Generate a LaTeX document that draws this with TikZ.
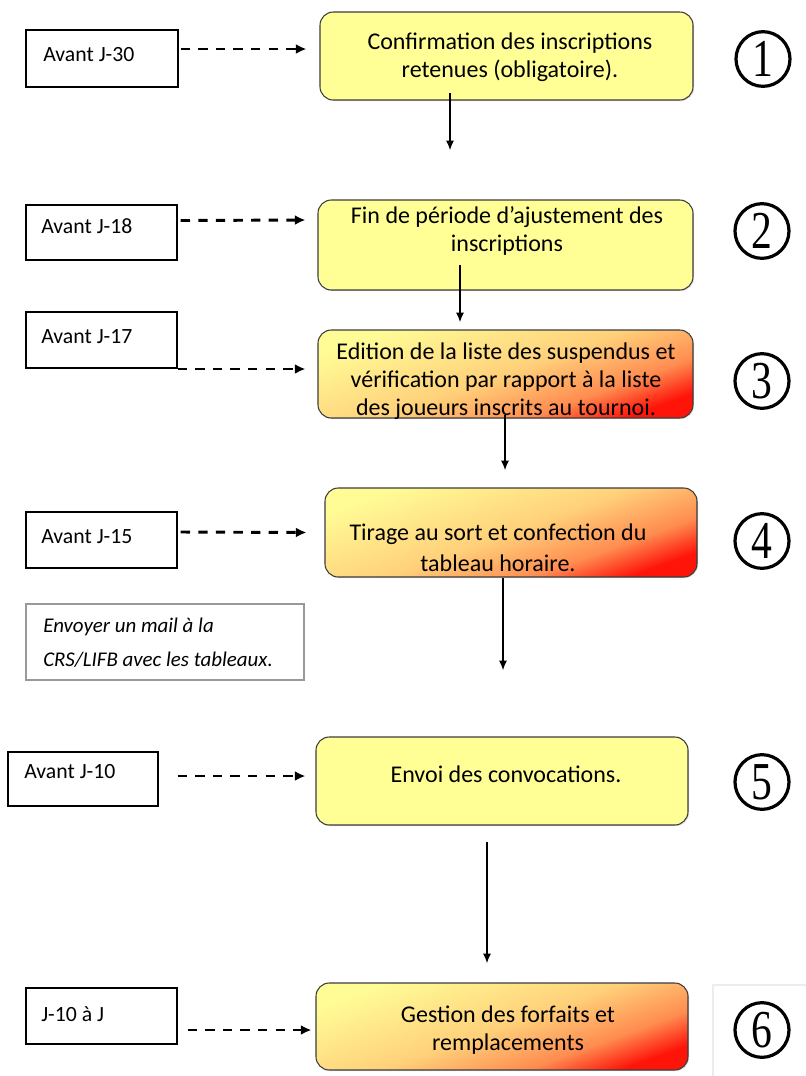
\documentclass[tikz,border=0pt]{standalone}
\usepackage{fontspec}
\setmainfont{Carlito}
\newfontfamily\digfont{Liberation Serif}
\usetikzlibrary{arrows.meta,shapes.geometric,shadows,calc,fit}
\definecolor{boxyellow}{RGB}{255,255,150}
\definecolor{gradY}{RGB}{255,252,150}
\definecolor{gradL}{RGB}{255,208,122}
\definecolor{gradO}{RGB}{255,140,80}
\definecolor{gradR}{RGB}{255,20,10}
\definecolor{boxline}{RGB}{60,60,60}
\pgfdeclareverticalshading{gbshade}{100bp}{color(0bp)=(gradR); color(25bp)=(gradR); color(35bp)=(gradO); color(50bp)=(gradL); color(75bp)=(gradY); color(100bp)=(gradY)}
\tikzset{
  lbox/.style={draw=black, line width=1pt, inner sep=0pt},
  notebox/.style={draw=gray!80, line width=1pt, inner sep=0pt},
  mbox/.style={draw=boxline, line width=0.8pt, rounded corners=10pt, inner sep=0pt,
     drop shadow={opacity=0.25, shadow xshift=0.8pt, shadow yshift=-0.8pt}},
  ybox/.style={mbox, fill=boxyellow},
  gbox/.style={mbox, shading=gbshade, shading angle=20},
  mtext/.style={align=center, font=\fontsize{18}{21}\selectfont, inner sep=0pt},
  ltext/.style={anchor=west, font=\fontsize{16.3}{19}\selectfont, inner sep=0pt},
  ntext/.style={anchor=west, font=\fontsize{15.7}{18}\selectfont\itshape, inner sep=0pt},
  numcirc/.style={ellipse, draw=black, line width=2.4pt, minimum width=40.5pt, minimum height=41pt, inner sep=0pt,
     font=\digfont\fontsize{40}{40}\selectfont},
  dasharrow/.style={line width=2.2pt, dash pattern=on 7pt off 6.2pt, -{Latex[length=8pt,width=7.5pt]}},
  solidarrow/.style={line width=0.8pt, -{Latex[length=7pt,width=6pt]}}
}
\newcommand{\dig}[1]{\scalebox{0.78}[1]{#1}}
\begin{document}
\begin{tikzpicture}[x=0.75pt,y=-0.75pt]
\useasboundingbox (0,0) rectangle (806,1076);
% faint frame around 6
\draw[gray!15, line width=0.8pt] (713,1080) -- (713,985) -- (810,985);

% left boxes
\node[lbox, fit={(26,30) (178,87)}] (L1) {};
\node[lbox, fit={(26,205) (177,260)}] (L2) {};
\node[lbox, fit={(26,312) (177,368)}] (L3) {};
\node[lbox, fit={(26,512) (177,568)}] (L4) {};
\node[lbox, fit={(8,752) (158,806)}] (L5) {};
\node[lbox, fit={(26,988) (177,1044)}] (L6) {};
\node[ltext] (T1) at (43,55) {Avant J-30};
\node[ltext] (T2) at (41,226) {Avant J-18};
\node[ltext] (T3) at (41,337) {Avant J-17};
\node[ltext] (T4) at (41,537) {Avant J-15};
\node[ltext] (T5) at (24,772) {Avant J-10};
\node[ltext] (T6) at (41,1014) {J-10 à J};

% note box
\node[notebox, fit={(26,604) (304,680)}] (N) {};
\node[ntext] (N1) at (43,627) {Envoyer un mail à la};
\node[ntext] (N2) at (43,660) {CRS/LIFB avec les tableaux.};

% main boxes
\node[ybox, fit={(320,12) (693,100)}] (M1) {};
\node[ybox, fit={(318,200) (693,290)}] (M2) {};
\node[gbox, fit={(318,330) (693,418)}] (M3) {};
\node[gbox, fit={(325,488) (697,577)}] (M4) {};
\node[ybox, fit={(316,737) (688,825)}] (M5) {};
\node[gbox, fit={(316,983) (688,1070)}] (M6) {};

\node[mtext] (X1) at (510,57) {Confirmation des inscriptions\\retenues (obligatoire).};
\node[mtext] (X2) at (507,231) {Fin de période d’ajustement des\\inscriptions};
\node[mtext] (X3) at (506,381) {Edition de la liste des suspendus et\\vérification par rapport à la liste\\des joueurs inscrits au tournoi.};
\node[mtext] (X4) at (498,548) {Tirage au sort et confection du\\[2pt]tableau horaire.};
\node[mtext] (X5) at (506,774) {Envoi des convocations.};
\node[mtext] (X6) at (508,1030) {Gestion des forfaits et\\remplacements};

% circled numbers
\node[numcirc] (C1) at (763,59) {\dig{1}};
\node[numcirc] (C2) at (762,231) {\dig{2}};
\node[numcirc] (C3) at (762,381) {\dig{3}};
\node[numcirc] (C4) at (762,541) {\dig{4}};
\node[numcirc] (C5) at (762,782) {\dig{5}};
\node[numcirc] (C6) at (762,1030) {\dig{6}};

% dashed arrows
\coordinate (d1s) at ($(L1.east)+(2,-9.5)$);  \coordinate (d1e) at ($(M1.west)+(-13,-7)$);
\coordinate (d2s) at ($(L2.east)+(3,-12)$);   \coordinate (d2e) at ($(M2.west)+(-12,-25)$);
\coordinate (d3s) at ($(L3.east)+(0,29)$);    \coordinate (d3e) at ($(M3.west)+(-12,-5)$);
\coordinate (d4s) at ($(L4.east)+(3,-8)$);    \coordinate (d4e) at ($(M4.west)+(-18,0)$);
\coordinate (d5s) at ($(L5.east)+(19,-3)$);   \coordinate (d5e) at ($(M5.west)+(-10,-5)$);
\coordinate (d6s) at ($(L6.east)+(10,14)$);   \coordinate (d6e) at ($(M6.west)+(-4,3.5)$);
\draw[dasharrow] (d1s) -- (d1e);
\draw[dasharrow] (d2s) -- (d2e);
\draw[dasharrow] (d3s) -- (d3e);
\draw[dasharrow] (d4s) -- (d4e);
\draw[dasharrow] (d5s) -- (d5e);
\draw[dasharrow] (d6s) -- (d6e);

% solid arrows
\coordinate (a1s) at (450,93);  \coordinate (a1e) at (450,150);
\coordinate (a2s) at (460,265); \coordinate (a2e) at (460,322);
\coordinate (a3s) at (505,415); \coordinate (a3e) at (505,470);
\coordinate (a4s) at (503,578); \coordinate (a4e) at (503,670);
\coordinate (a5s) at (487,842); \coordinate (a5e) at (487,963);
\draw[solidarrow] (a1s) -- (a1e);
\draw[solidarrow] (a2s) -- (a2e);
\draw[solidarrow] (a3s) -- (a3e);
\draw[solidarrow] (a4s) -- (a4e);
\draw[solidarrow] (a5s) -- (a5e);
\end{tikzpicture}
\end{document}
